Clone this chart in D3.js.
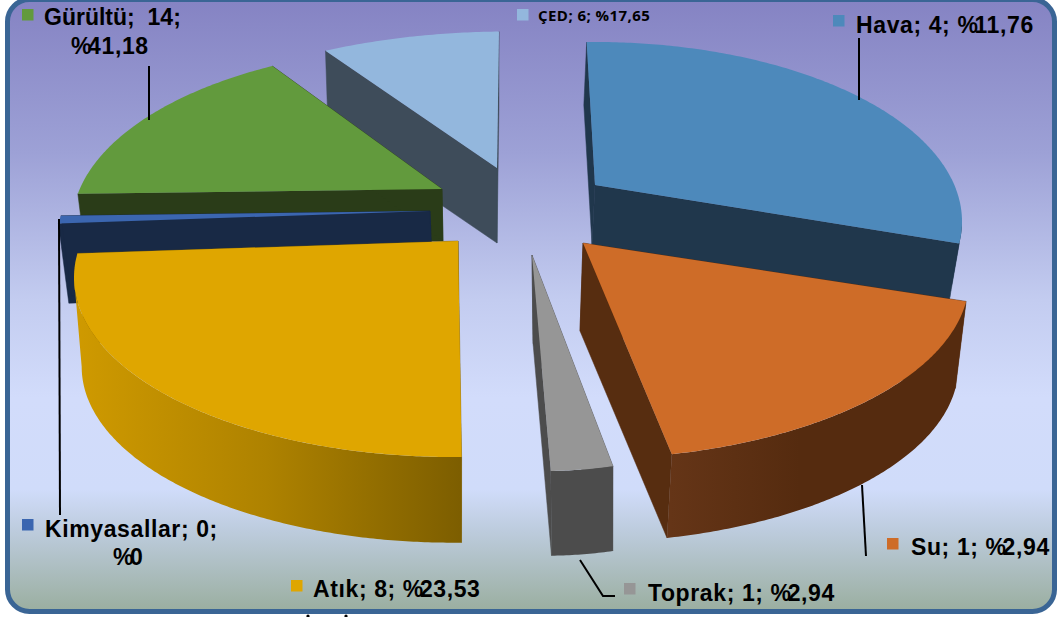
<!DOCTYPE html>
<html><head><meta charset="utf-8">
<script src="https://cdn.jsdelivr.net/npm/d3@7/dist/d3.min.js"></script>
<style>html,body{margin:0;padding:0;background:#fff;overflow:hidden}svg{display:block}</style>
</head><body><div id="chart"></div>
<script>
// --- data ---
const categories = ["Hava","Su","Toprak","Atık","Kimyasallar","Gürültü","ÇED"];
const counts = [4,1,1,8,0,14,6];
const percentLabels = ["11,76","2,94","2,94","23,53","0","41,18","17,65"];
// sweep of every slice as it is actually drawn in the picture (degrees)
const drawnSweep = [98.3,69.7,12.0,99.0,2.5,52.5,26.0];

// --- styling and layout ---
const W = 1057, H = 617;
const topColors  = ["#4d89bb","#ce6c28","#969696","#dfa600","#3b66b0","#629a3d","#93b7dd"];
const wallColors = ["#20374c","#572d10","#4c4c4c","#7f5f00","#182945","#2a3c18","#3e4c5a"];
const apexX   = [595,583,532,458,430,442,497];
const apexY   = [185,243,255,241,211,189,168];
const radiusX = [367,386,300,379,375,370,398];
const radiusY = [179.5,179.5,179.5,179.5,179.5,179.5,173];
const rimShiftX = [0,0,12,-5,0,0,11];
const depth   = [60,88,88,90,80,52,75];
const wallShrink = [0.98,0.98,0.985,0.98,0.98,0.985,0.985];
const wallLean = [-3,-3,1,0,3,1,0];
const ellipseDrop = 36.5;
const paintOrder = [6,0,5,4,1,2,3];

const svg = d3.select("#chart").append("svg").attr("width",W).attr("height",H);
const defs = svg.append("defs");
const bg = defs.append("linearGradient").attr("id","bg").attr("gradientUnits","userSpaceOnUse")
  .attr("x1",0).attr("y1",0).attr("x2",0).attr("y2",612);
[[0,"#8583c3"],[0.25,"#9da1d6"],[0.49,"#c3ccf0"],[0.65,"#d2dcfb"],[0.80,"#d0dcfa"],[0.87,"#bccbdc"],[1,"#9aae9f"]]
  .forEach(s=>bg.append("stop").attr("offset",s[0]).attr("stop-color",s[1]));
const atikGrad = defs.append("linearGradient").attr("id","wall3").attr("gradientUnits","userSpaceOnUse")
  .attr("x1",75).attr("y1",0).attr("x2",460).attr("y2",0);
[[0,"#cf9a00"],[0.5,"#ae8200"],[1,"#7d5e00"]].forEach(s=>atikGrad.append("stop").attr("offset",s[0]).attr("stop-color",s[1]));
const suGrad = defs.append("linearGradient").attr("id","wall1").attr("gradientUnits","userSpaceOnUse")
  .attr("x1",670).attr("y1",0).attr("x2",800).attr("y2",0);
[[0,"#653517"],[1,"#552b0f"]].forEach(s=>suGrad.append("stop").attr("offset",s[0]).attr("stop-color",s[1]));

svg.append("rect").attr("x",7.5).attr("y",-0.5).attr("width",1047).attr("height",612)
  .attr("rx",22).attr("ry",22).attr("fill","url(#bg)").attr("stroke","#3a6595").attr("stroke-width",5);

const pie = d3.pie().sort(null).startAngle(-1.3*Math.PI/180).endAngle(358.7*Math.PI/180);
const arcs = pie(drawnSweep);
const line = d3.line();

function rimPoint(i,t){
  return [apexX[i]+rimShiftX[i]+radiusX[i]*Math.sin(t),
          apexY[i]+ellipseDrop-radiusY[i]*Math.cos(t)];
}
function lower(i,p){
  return [apexX[i]+wallLean[i]+wallShrink[i]*(p[0]-apexX[i]),
          apexY[i]+depth[i]+wallShrink[i]*(p[1]-apexY[i])];
}
function rim(i,a,b){
  const n = Math.max(2,Math.ceil(Math.abs(b-a)/0.01));
  return d3.range(n+1).map(k=>rimPoint(i,a+(b-a)*k/n));
}
const chart = svg.append("g");
paintOrder.forEach(i=>{
  const a = arcs[i], apex=[apexX[i],apexY[i]];
  const g = chart.append("g").attr("class","slice").attr("data-name",categories[i]);
  // radial walls
  [a.startAngle,a.endAngle].forEach(t=>{
    const p = rimPoint(i,t);
    g.append("path").attr("d",line([apex,p,lower(i,p),lower(i,apex)])+"Z").attr("fill",wallColors[i]).attr("stroke",wallColors[i]).attr("stroke-width",0.5);
  });
  // outer wall, only the part that faces the viewer
  const from = Math.max(a.startAngle,Math.PI/2), to = Math.min(a.endAngle,1.5*Math.PI);
  if(to>from){
    const r = rim(i,from,to);
    g.append("path").attr("d",line(r.concat(r.map(p=>lower(i,p)).reverse()))+"Z")
      .attr("fill",(i===3||i===1)?`url(#wall${i})`:wallColors[i]);
  }
  // top face
  g.append("path").attr("d",line([apex].concat(rim(i,a.startAngle,a.endAngle)))+"Z").attr("fill",topColors[i]);
});

// leader lines
const leaders = [
  [[859,38],[859,100]],
  [[862,485],[866,556]],
  [[580,560],[603,596],[615,596]],
  [[59,219],[60,515]],
  [[149,66],[149,120]]
];
svg.append("g").selectAll("path").data(leaders).join("path")
  .attr("d",d=>line(d)).attr("fill","none").attr("stroke","#000").attr("stroke-width",2);

// labels: the "%" sits tight against the number that follows it
const labelRows = [
  {i:0,sq:[833,15],rows:[{parts:[`Hava; ${counts[0]}; %`,percentLabels[0]],x:856,y:33}]},
  {i:1,sq:[887,538],rows:[{parts:[`Su; ${counts[1]}; %`,percentLabels[1]],x:911,y:555}]},
  {i:2,sq:[624,583],rows:[{parts:[`Toprak; ${counts[2]}; %`,percentLabels[2]],x:648,y:601}]},
  {i:3,sq:[291,580],rows:[{parts:[`Atık; ${counts[3]}; %`,percentLabels[3]],x:313,y:597}]},
  {i:4,sq:[22,519],rows:[{parts:[`Kimyasallar; ${counts[4]};`,""],x:45,y:537},{parts:["%",percentLabels[4]],x:113,y:565}]},
  {i:5,sq:[22,9],rows:[{parts:[`Gürültü;  ${counts[5]};`,""],x:44,y:25,ls:0},{parts:["%",percentLabels[5]],x:71,y:54}]}
];
const lab = svg.append("g").attr("font-family","'Liberation Sans',Arial,sans-serif").attr("font-weight","700").attr("font-size",23).attr("fill","#000");
labelRows.forEach(l=>{
  lab.append("rect").attr("x",l.sq[0]).attr("y",l.sq[1]).attr("width",11.5).attr("height",11.5).attr("fill",topColors[l.i]);
  l.rows.forEach(r=>{
    const str = r.parts.join("");
    const dx = Array.from(str).map((c,k)=> (r.parts[1] && k===r.parts[0].length) ? -4 : 0).join(" ");
    lab.append("text").attr("x",r.x).attr("y",r.y).attr("dx",dx)
      .style("white-space","pre").style("letter-spacing",(r.ls===undefined?0.6:r.ls)+"px").text(str);
  });
});
// ÇED has a small label of its own
lab.append("rect").attr("x",517).attr("y",9).attr("width",11.5).attr("height",11.5).attr("fill",topColors[6]);
lab.append("text").attr("x",538).attr("y",21).attr("font-family","'Open Sans',sans-serif").attr("font-size",15)
  .style("letter-spacing","0.45px").text(`${categories[6]}; ${counts[6]}; %${percentLabels[6]}`);

// clipped text fragment below the frame
svg.append("g").selectAll("circle").data([0,1]).join("circle")
  .attr("cx",(d,i)=>308+i*38).attr("cy",616).attr("r",1.6).attr("fill","#000");
</script></body></html>
